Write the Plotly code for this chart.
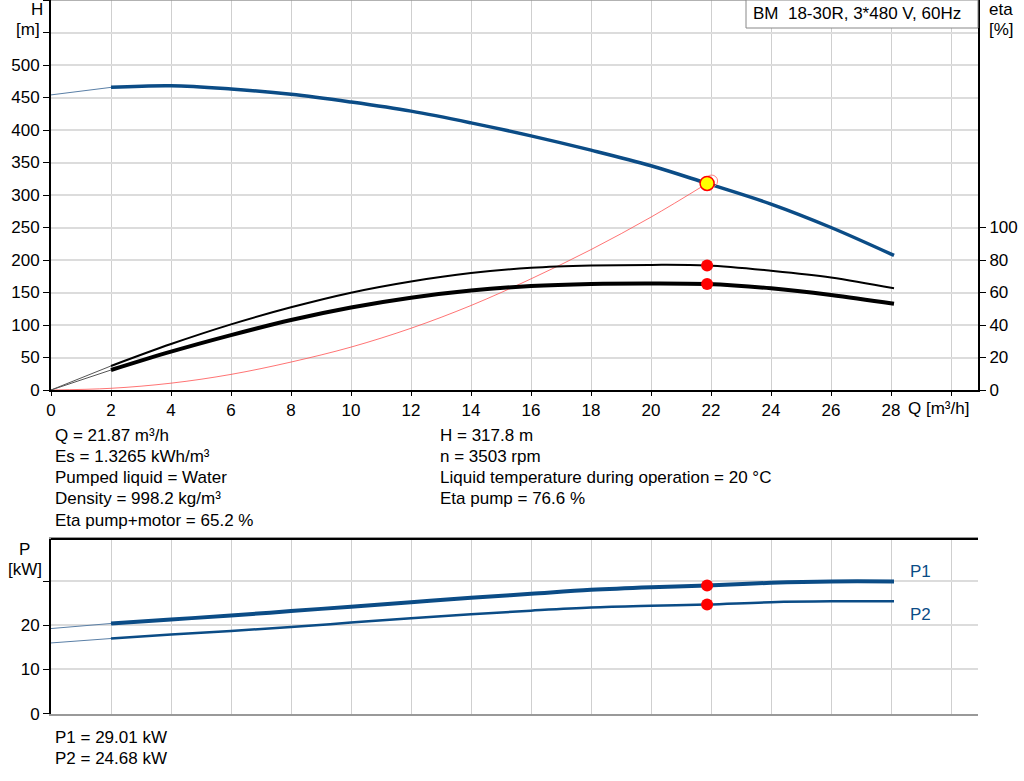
import plotly.graph_objects as go

# ---- data ----
q_pts = [2, 4, 6, 8, 10, 12, 14, 16, 18, 20, 21.87, 24, 26, 28.1]
h_vals = [465.6, 468, 463, 455, 443, 429, 411, 391, 369, 345, 317.8, 286, 250, 207]
eta_pump = [14.8, 28.3, 40.4, 50.9, 59.9, 66.8, 72.0, 75.2, 76.6, 77.0, 76.6, 73.4, 69.3, 62.6]
eta_total = [12.3, 23.6, 33.8, 43.1, 50.8, 56.8, 61.2, 64.0, 65.3, 65.6, 65.2, 62.6, 58.5, 53.1]
p1_vals = [20.4, 21.3, 22.2, 23.2, 24.2, 25.2, 26.2, 27.1, 28.0, 28.6, 29.01, 29.6, 29.9, 29.9]
p2_vals = [17.0, 17.9, 18.7, 19.6, 20.6, 21.6, 22.5, 23.3, 24.0, 24.4, 24.68, 25.2, 25.4, 25.4]

# thin extensions from Q=0 to the start of the curves
q_ext = [0, 2]
h_ext = [454, 465.6]
eta_pump_ext = [0, 14.8]
eta_total_ext = [0, 12.3]
p1_ext = [19.25, 20.4]
p2_ext = [16.0, 17.0]

# system curve
q_sys = [0, 2, 4, 6, 8, 10, 12, 14, 16, 18, 20, 21.87]
h_sys = [0, 2.6, 10.5, 24, 43, 66, 95, 130, 171, 216, 266, 317.8]

# duty point
q_op = 21.87
h_op = 317.8
eta_pump_op = 76.6
eta_total_op = 65.2
p1_op = 29.01
p2_op = 24.68
ring_q = [22.02]
ring_h = [321.5]

x_ticks = list(range(0, 31, 2))
x_labels = [str(v) for v in range(0, 29, 2)] + [""]
h_ticks = list(range(0, 601, 50))
h_labels = [str(v) for v in range(0, 501, 50)] + ["", ""]
eta_ticks = list(range(0, 101, 20))
p_ticks = [0, 10, 20, 30]
p_labels = ["0", "10", "20", ""]

info_left = ["Q = 21.87 m³/h", "Es = 1.3265 kWh/m³", "Pumped liquid = Water",
             "Density = 998.2 kg/m³", "Eta pump+motor = 65.2 %"]
info_right = ["H = 317.8 m", "n = 3503 rpm",
              "Liquid temperature during operation = 20 °C", "Eta pump = 76.6 %"]
info_power = ["P1 = 29.01 kW", "P2 = 24.68 kW"]

BLUE = "#0b4c86"
FONT = "Liberation Sans, Arial, sans-serif"
FS = 17
W, H = 1024, 781


def py(pix):
    return 1 - pix / H


def px(pix):
    return pix / W


fig = go.Figure()

# H curve
fig.add_trace(go.Scatter(x=q_ext, y=h_ext, mode="lines", line=dict(color="#5a7fa6", width=1),
                         xaxis="x", yaxis="y"))
fig.add_trace(go.Scatter(x=q_pts, y=h_vals, mode="lines", line=dict(color=BLUE, width=3.5, shape="spline"),
                         xaxis="x", yaxis="y"))
# system curve
fig.add_trace(go.Scatter(x=q_sys, y=h_sys, mode="lines", line=dict(color="#ff5050", width=0.8, shape="spline"),
                         xaxis="x", yaxis="y"))

# eta curves
fig.add_trace(go.Scatter(x=q_ext, y=eta_pump_ext, mode="lines", line=dict(color="#555555", width=1),
                         xaxis="x", yaxis="y2"))
fig.add_trace(go.Scatter(x=q_ext, y=eta_total_ext, mode="lines", line=dict(color="#555555", width=1),
                         xaxis="x", yaxis="y2"))
fig.add_trace(go.Scatter(x=q_pts, y=eta_pump, mode="lines", line=dict(color="black", width=2, shape="spline"),
                         xaxis="x", yaxis="y2"))
fig.add_trace(go.Scatter(x=q_pts, y=eta_total, mode="lines", line=dict(color="black", width=4, shape="spline"),
                         xaxis="x", yaxis="y2"))
fig.add_trace(go.Scatter(x=[q_op, q_op], y=[eta_pump_op, eta_total_op], mode="markers",
                         marker=dict(color="#ff0000", size=12), xaxis="x", yaxis="y2"))

# duty point on H
fig.add_trace(go.Scatter(x=ring_q, y=ring_h, mode="markers",
                         marker=dict(color="rgba(0,0,0,0)", size=12, line=dict(color="#ff8080", width=1)),
                         xaxis="x", yaxis="y"))
fig.add_trace(go.Scatter(x=[q_op], y=[h_op], mode="markers",
                         marker=dict(color="#ffff00", size=14, line=dict(color="#ff0000", width=1.5)),
                         xaxis="x", yaxis="y"))

# power curves
fig.add_trace(go.Scatter(x=q_ext, y=p1_ext, mode="lines", line=dict(color="#5a7fa6", width=1),
                         xaxis="x3", yaxis="y3"))
fig.add_trace(go.Scatter(x=q_ext, y=p2_ext, mode="lines", line=dict(color="#5a7fa6", width=1),
                         xaxis="x3", yaxis="y3"))
fig.add_trace(go.Scatter(x=q_pts, y=p1_vals, mode="lines", line=dict(color=BLUE, width=4, shape="spline"),
                         xaxis="x3", yaxis="y3"))
fig.add_trace(go.Scatter(x=q_pts, y=p2_vals, mode="lines", line=dict(color=BLUE, width=2.5, shape="spline"),
                         xaxis="x3", yaxis="y3"))
fig.add_trace(go.Scatter(x=[q_op, q_op], y=[p1_op, p2_op], mode="markers",
                         marker=dict(color="#ff0000", size=12), xaxis="x3", yaxis="y3"))

xdom = [px(51), px(978)]
xrange = [0, (978 - 51) / 30]
tickfont = dict(family=FONT, size=FS, color="black")

fig.update_layout(
    width=W, height=H,
    margin=dict(l=0, r=0, t=0, b=0, autoexpand=False),
    paper_bgcolor="white", plot_bgcolor="white",
    showlegend=False,
    font=dict(family=FONT, size=FS, color="black"),
    xaxis=dict(domain=xdom, range=xrange, tickvals=x_ticks, ticktext=x_labels,
               showgrid=True, gridcolor="#cfcfcf", gridwidth=1, zeroline=False,
               showline=True, linecolor="black", linewidth=2, ticks="outside", ticklen=4,
               tickcolor="black", tickfont=tickfont, anchor="y", automargin=False),
    yaxis=dict(domain=[py(390), 1], range=[0, 600], tickvals=h_ticks, ticktext=h_labels,
               showgrid=True, gridcolor="#dcdcdc", gridwidth=2, zeroline=False,
               showline=True, linecolor="black", linewidth=2, ticks="outside", ticklen=6,
               tickcolor="black", tickfont=tickfont, anchor="x", automargin=False),
    yaxis2=dict(overlaying="y", side="right", range=[0, 240], tickvals=eta_ticks,
                showgrid=False, zeroline=False, showline=True, linecolor="black", linewidth=2,
                ticks="outside", ticklen=6, tickcolor="black", tickfont=tickfont, anchor="x",
                automargin=False),
    xaxis3=dict(domain=xdom, range=xrange, tickvals=x_ticks, showticklabels=False,
                showgrid=True, gridcolor="#cfcfcf", gridwidth=1, zeroline=False,
                showline=True, linecolor="#999999", linewidth=1.5, mirror=True, ticks="",
                anchor="y3", automargin=False),
    yaxis3=dict(domain=[py(713.7), py(539)], range=[0, 39.5], tickvals=p_ticks, ticktext=p_labels,
                showgrid=True, gridcolor="#dcdcdc", gridwidth=2, zeroline=False,
                showline=True, linecolor="black", linewidth=2, ticks="outside", ticklen=6,
                tickcolor="black", tickfont=tickfont, anchor="x3", automargin=False),
)

shapes = [
    # top border of upper plot
    dict(type="line", xref="paper", yref="paper", x0=xdom[0], x1=xdom[1], y0=1, y1=1,
         line=dict(color="#999999", width=1.5)),
    # top border of lower plot
    dict(type="line", xref="paper", yref="paper", x0=xdom[0], x1=xdom[1], y0=py(539), y1=py(539),
         line=dict(color="black", width=2)),
    # title box
    dict(type="rect", xref="paper", yref="paper", x0=px(746), x1=px(978), y0=py(28), y1=1,
         line=dict(color="#888888", width=1), fillcolor="white"),
]
fig.update_layout(shapes=shapes)

ann = []


def label(text, x, y, anchor="left", color="black", size=FS):
    ann.append(dict(text=text, x=px(x), y=py(y), xref="paper", yref="paper", showarrow=False,
                    xanchor=anchor, yanchor="middle", font=dict(family=FONT, size=size, color=color)))


label("BM\u00a0\u00a018-30R, 3*480 V, 60Hz", 751, 14)
label("H", 37, 9, "center")
label("[m]", 28, 29, "center")
label("eta", 1001, 9, "center")
label("[%]", 1001, 29, "center")
label("Q [m³/h]", 906, 408)
label("P", 24, 549, "center")
label("[kW]", 25, 569, "center")
label("P1", 920, 571, "center", BLUE)
label("P2", 920, 614, "center", BLUE)

for i, t in enumerate(info_left):
    label(t, 53, 435 + i * 21.3)
for i, t in enumerate(info_right):
    label(t, 438, 435 + i * 21.3)
for i, t in enumerate(info_power):
    label(t, 53, 737 + i * 21)

fig.update_layout(annotations=ann)

# drop the default page margin so the figure sits at the window origin
fig.write_html("out.html", config={"displayModeBar": False},
               post_script="document.body.style.margin='0px';"
                           "document.body.style.overflow='hidden';")
